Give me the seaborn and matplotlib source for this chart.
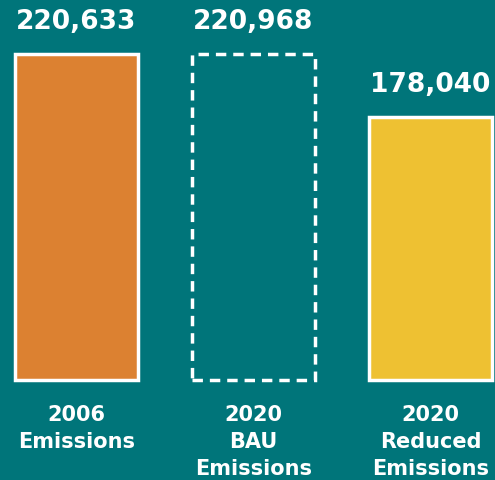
import matplotlib
matplotlib.use("Agg")
import matplotlib.pyplot as plt
import pandas as pd
import seaborn as sns

# Chart data
categories = ["2006\nEmissions", "2020\nBAU\nEmissions", "2020\nReduced\nEmissions"]
values = [220633, 220968, 178040]
value_labels = ["220,633", "220,968", "178,040"]

BG = "#00757A"
bar_colors = ["#DC8131", BG, "#EEC132"]

sns.set_style("white")
plt.rcParams["font.family"] = ["DejaVu Sans"]

df = pd.DataFrame({"category": categories, "value": values})

fig = plt.figure(figsize=(4.95, 4.81), dpi=100, facecolor=BG)
ax = fig.add_axes([0, 0, 1, 1])
ax.set_facecolor(BG)

sns.barplot(x="category", y="value", hue="category", data=df, palette=bar_colors,
            width=0.70, legend=False, ax=ax, saturation=1)

for i, patch in enumerate(ax.patches):
    patch.set_edgecolor("white")
    patch.set_linewidth(2.5)
    if i == 1:
        patch.set_facecolor("none")
        patch.set_linestyle((0, (3, 2)))
        patch.set_joinstyle("miter")

# px -> data scale: baseline at 381px from top, 220633 -> 326px
scale = 326 / 220633
ax.set_ylim(-(481 - 381) / scale, 381 / scale)
ax.set_xlim(-76.5 / 177, (495 - 76.5) / 177)
ax.axis("off")

for i, (v, lab) in enumerate(zip(values, value_labels)):
    ax.annotate(lab, xy=(i, v), xytext=(0, 23.5), textcoords="offset points",
                ha="center", va="center", color="white", fontsize=19,
                fontweight="bold")

for i, cat in enumerate(categories):
    ax.annotate(cat, xy=(i, 0), xytext=(0, -17), textcoords="offset points",
                ha="center", va="top", color="white", fontsize=15,
                fontweight="bold", linespacing=1.45, multialignment="center")

fig.savefig("out.png", dpi=100, facecolor=BG)
